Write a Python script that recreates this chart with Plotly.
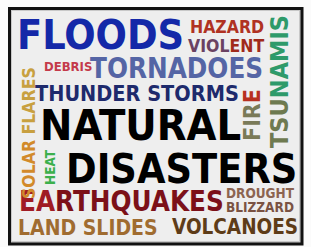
import plotly.graph_objects as go

# ---- data: the words of the cloud ----
words = ["FLOODS", "HAZARD", "VIOLENT", "DEBRIS", "TORNADOES", "THUNDER STORMS",
         "NATURAL", "DISASTERS", "EARTHQUAKES", "DROUGHT", "BLIZZARD",
         "LAND SLIDES", "VOLCANOES", "SOLAR FLARES", "TSUNAMIS", "FIRE", "HEAT"]
# relative prominence of each word (font size in px)
weights = [41, 17.5, 17.5, 13, 27.5, 21.5, 43, 41, 27.5, 13.5, 13.5, 21, 20.5, 17.5, 25, 23, 13.5]

# ---- layout of the cloud (centre x, centre y, angle) ----
placement = {
    "FLOODS": (100, 35, 0),
    "HAZARD": (227, 27, 0),
    "VIOLENT": (226, 46, 0),
    "DEBRIS": (68, 66, 0),
    "TORNADOES": (176, 68, 0),
    "THUNDER STORMS": (137, 93, 0),
    "NATURAL": (140, 125, 0),
    "DISASTERS": (181, 169, 0),
    "EARTHQUAKES": (121, 201, 0),
    "DROUGHT": (260, 193, 0),
    "BLIZZARD": (260, 207, 0),
    "LAND SLIDES": (88, 228, 0),
    "VOLCANOES": (235, 227, 0),
    "SOLAR FLARES": (29, 133, -90),
    "TSUNAMIS": (279, 82, -90),
    "FIRE": (252, 115, -90),
    "HEAT": (50, 167, -90),
}

# ---- colours (segments of each word: text, colour) ----
colours = {
    "FLOODS": [("FLOODS", "#1428a8")],
    "HAZARD": [("HAZARD", "#b03222")],
    "VIOLENT": [("VIOL", "#6a4262"), ("ENT", "#a02a1a")],
    "DEBRIS": [("DEBRIS", "#c43a4a")],
    "TORNADOES": [("TORNADOES", "#5565a5")],
    "THUNDER STORMS": [("THUNDER STORMS", "#1e2a6c")],
    "NATURAL": [("NATURAL", "#000000")],
    "DISASTERS": [("DISASTERS", "#000000")],
    "EARTHQUAKES": [("EA", "#a01c24"), ("RTHQUAKES", "#7c1018")],
    "DROUGHT": [("DROUGHT", "#8c6450")],
    "BLIZZARD": [("BLIZZARD", "#7a5242")],
    "LAND SLIDES": [("LAND SLIDES", "#a06c30")],
    "VOLCANOES": [("VOLCANOES", "#5e3c18")],
    "SOLAR FLARES": [("SOLAR ", "#d28a2a"), ("FLARES", "#c8a040")],
    "TSUNAMIS": [("TSU", "#6e7a50"), ("NAMIS", "#2e9a6a")],
    "FIRE": [("FIR", "#7a7a58"), ("E", "#b83020")],
    "HEAT": [("HEAT", "#3cb04c")],
}

W, H = 311, 247
fig = go.Figure()

shapes = [
    # inner board
    dict(type="rect", x0=10, y0=9, x1=301, y1=243, fillcolor="#eeeeee",
         line=dict(color="#c8c8c8", width=4), layer="below"),
    # black frame
    dict(type="rect", x0=9.5, y0=8.5, x1=302, y1=244, fillcolor="rgba(0,0,0,0)",
         line=dict(color="#111111", width=3), layer="below"),
]

annotations = []
for w, size in zip(words, weights):
    cx, cy, ang = placement[w]
    txt = "".join(f'<span style="color:{c}">{s}</span>' for s, c in colours[w])
    annotations.append(dict(
        x=cx, y=cy, xref="x", yref="y", text=f"<b>{txt}</b>",
        showarrow=False, xanchor="center", yanchor="middle", textangle=ang,
        font=dict(family="Liberation Sans Narrow, DejaVu Sans Condensed, Arial Narrow, sans-serif",
                  size=size),
    ))

fig.update_layout(
    width=W, height=H, autosize=False,
    margin=dict(l=0, r=0, t=0, b=0),
    paper_bgcolor="#fbfbfb", plot_bgcolor="#fbfbfb",
    xaxis=dict(range=[0, W], visible=False, fixedrange=True),
    yaxis=dict(range=[H, 0], visible=False, fixedrange=True),
    shapes=shapes, annotations=annotations, showlegend=False,
)

fig.write_html("out.html", config={"displayModeBar": False},
               post_script="document.body.style.margin='0';document.body.style.overflow='hidden';")
